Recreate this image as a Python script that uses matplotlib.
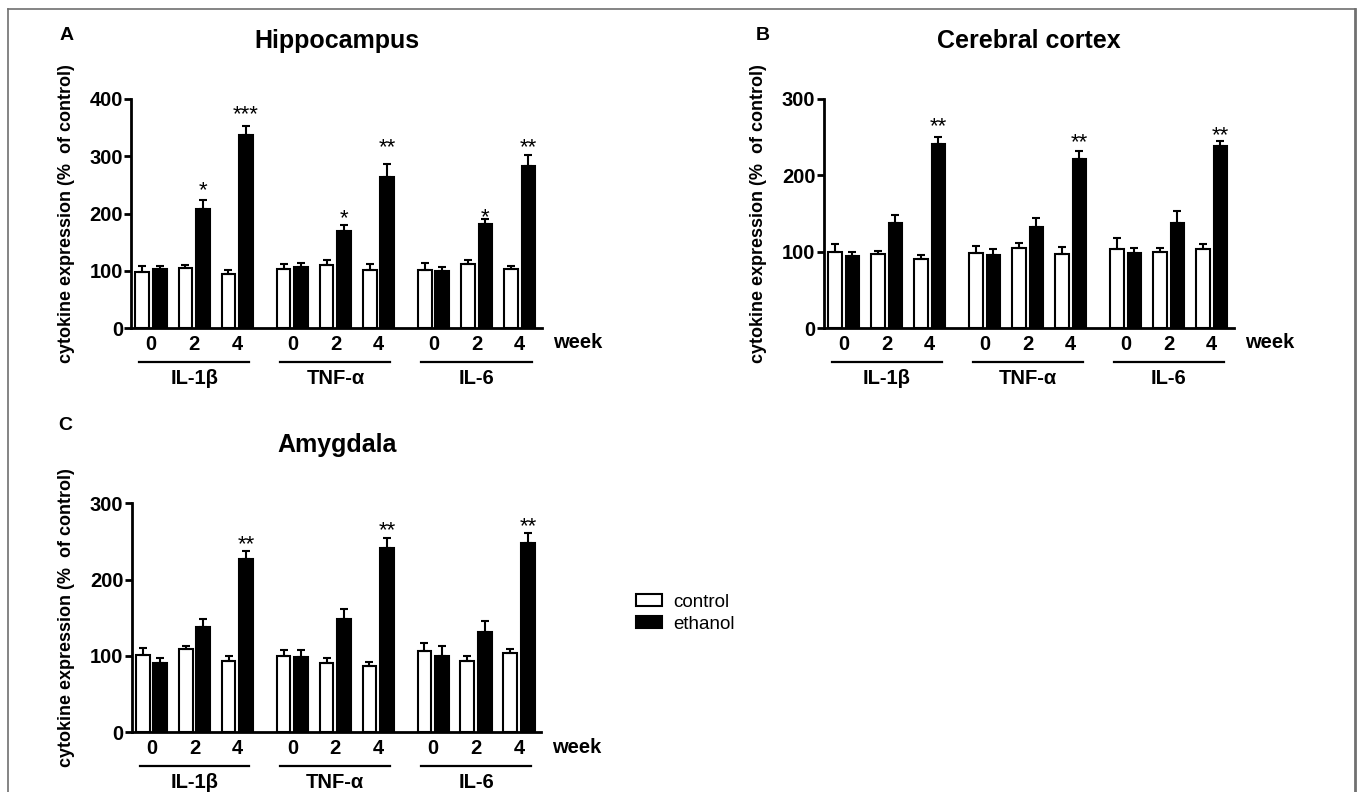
import matplotlib
matplotlib.use("Agg")
import matplotlib.pyplot as plt
from matplotlib.lines import Line2D
from matplotlib.patches import Patch
import numpy as np

plt.rcParams['font.family'] = ['Liberation Sans', 'DejaVu Sans']

# ---------------- data ----------------
cytokines = ["IL-1\u03b2", "TNF-\u03b1", "IL-6"]
weeks = ["0", "2", "4"]

# order: IL-1b wk0,2,4 | TNF-a wk0,2,4 | IL-6 wk0,2,4
hippo_ctrl = [97.7, 104.7, 94.0, 103.0, 110.0, 102.0, 102.0, 111.6, 103.5]
hippo_ctrl_err = [10.0, 6.0, 8.0, 9.0, 8.0, 10.0, 12.0, 6.5, 4.5]
hippo_eth = [103.0, 208.0, 337.0, 106.0, 168.6, 264.5, 99.4, 182.0, 283.0]
hippo_eth_err = [6.0, 16.0, 15.0, 8.0, 10.5, 21.5, 7.0, 8.0, 18.6]
hippo_sig = ["", "*", "***", "", "*", "**", "", "*", "**"]
hippo_sig_y = [0, 253, 385, 0, 203, 328, 0, 205, 328]

cortex_ctrl = [99.4, 97.0, 90.7, 98.0, 104.7, 96.8, 103.0, 99.4, 103.8]
cortex_ctrl_err = [10.0, 4.5, 4.5, 9.0, 6.0, 9.6, 14.8, 4.8, 6.0]
cortex_eth = [94.6, 137.0, 241.0, 96.0, 132.6, 221.0, 98.0, 137.8, 239.0]
cortex_eth_err = [5.0, 11.0, 9.0, 7.0, 11.4, 10.5, 7.0, 16.0, 6.0]
cortex_sig = ["", "", "**", "", "", "**", "", "", "**"]
cortex_sig_y = [0, 0, 274, 0, 0, 252, 0, 0, 262]

amyg_ctrl = [101.3, 109.6, 93.4, 99.6, 91.3, 87.0, 106.5, 94.0, 103.5]
amyg_ctrl_err = [9.6, 4.0, 6.6, 7.8, 5.7, 5.6, 10.5, 6.0, 6.0]
amyg_eth = [91.3, 138.4, 227.0, 99.0, 149.0, 241.0, 99.6, 132.0, 248.0]
amyg_eth_err = [6.5, 10.5, 10.0, 9.0, 12.0, 14.0, 13.0, 14.0, 13.6]
amyg_sig = ["", "", "**", "", "", "**", "", "", "**"]
amyg_sig_y = [0, 0, 256, 0, 0, 274, 0, 0, 279]

panels = [
    dict(letter="A", title="Hippocampus", ymax=400, yticks=[0, 100, 200, 300, 400],
         ctrl=hippo_ctrl, ctrl_err=hippo_ctrl_err, eth=hippo_eth, eth_err=hippo_eth_err,
         sig=hippo_sig, sig_y=hippo_sig_y),
    dict(letter="B", title="Cerebral cortex", ymax=300, yticks=[0, 100, 200, 300],
         ctrl=cortex_ctrl, ctrl_err=cortex_ctrl_err, eth=cortex_eth, eth_err=cortex_eth_err,
         sig=cortex_sig, sig_y=cortex_sig_y),
    dict(letter="C", title="Amygdala", ymax=300, yticks=[0, 100, 200, 300],
         ctrl=amyg_ctrl, ctrl_err=amyg_ctrl_err, eth=amyg_eth, eth_err=amyg_eth_err,
         sig=amyg_sig, sig_y=amyg_sig_y),
]

# ---------------- layout ----------------
W, H = 1357, 792
fig = plt.figure(figsize=(W / 100, H / 100), dpi=100)

def px_rect(left, right, top, bottom):
    return [left / W, 1 - bottom / H, (right - left) / W, (bottom - top) / H]

rects = [px_rect(131.4, 542, 99, 328),
         px_rect(823.8, 1234, 99, 328),
         px_rect(131.8, 541.4, 503.3, 732.3)]
letter_pos = [(67, 36), (763, 35), (65, 425)]

group_step = 3.28
x = np.array([g * group_step + j for g in range(3) for j in range(3)], dtype=float)
off = 0.205
bw = 0.32

TICK_FS = 14.5
LAB_FS = 14.5
STAR_FS = 16

for p, r, lp in zip(panels, rects, letter_pos):
    ax = fig.add_axes(r)
    ax.bar(x - off, p["ctrl"], width=bw, color="white", edgecolor="black", linewidth=1.5, zorder=2)
    ax.bar(x + off, p["eth"], width=bw, color="black", edgecolor="black", linewidth=1.5, zorder=2)
    ax.errorbar(x - off, p["ctrl"], yerr=[np.zeros(9), p["ctrl_err"]], fmt="none",
                ecolor="black", elinewidth=1.5, capsize=2.9, capthick=1.5, zorder=3)
    ax.errorbar(x + off, p["eth"], yerr=[np.zeros(9), p["eth_err"]], fmt="none",
                ecolor="black", elinewidth=1.5, capsize=2.9, capthick=1.5, zorder=3)
    for xi, s, sy in zip(x + off, p["sig"], p["sig_y"]):
        if s:
            ax.annotate(s, (xi, sy), xytext=(0, -0.58 * STAR_FS), textcoords="offset points",
                        ha="center", va="baseline", fontsize=STAR_FS, annotation_clip=False)

    ax.set_xlim(-0.46, 9.08)
    ax.set_ylim(0, p["ymax"])
    for s in ["top", "right"]:
        ax.spines[s].set_visible(False)
    ax.spines["left"].set_linewidth(2)
    ax.spines["bottom"].set_linewidth(2)
    ax.set_yticks(p["yticks"])
    ax.set_yticklabels([str(t) for t in p["yticks"]], fontweight="bold", fontsize=TICK_FS)
    ax.tick_params(axis="y", length=5, width=2, pad=1)
    ax.set_xticks(x)
    ax.set_xticklabels(weeks * 3, fontweight="bold", fontsize=TICK_FS)
    ax.tick_params(axis="x", length=0, pad=5)

    ax.text(1.027, -0.0655, "week", transform=ax.transAxes, ha="left", va="center",
            fontweight="bold", fontsize=LAB_FS)
    trans = ax.get_xaxis_transform()
    for g, name in enumerate(cytokines):
        c0 = g * group_step
        ax.add_line(Line2D([c0 - 0.28, c0 + 2 + 0.28], [-0.147, -0.147], transform=trans,
                           color="black", linewidth=1.6, clip_on=False))
        ax.text(c0 + 1, -0.22, name, transform=trans, ha="center", va="center",
                fontweight="bold", fontsize=LAB_FS)

    ax.text(0.5, 1 + 58 / 229, p["title"], transform=ax.transAxes, ha="center", va="center",
            fontweight="bold", fontsize=18)
    fig.text(lp[0] / W, 1 - lp[1] / H, p["letter"], ha="center", va="center",
             fontweight="bold", fontsize=14)
    # y label
    yl_x = (r[0] * W - 65) / W
    yl_y = r[1] + r[3] / 2
    fig.text(yl_x, yl_y, "cytokine expression (%  of control)", rotation=90,
             ha="center", va="center", fontweight="bold", fontsize=13)

# legend
handles = [Patch(facecolor="white", edgecolor="black", linewidth=1.5, label="control"),
           Patch(facecolor="black", edgecolor="black", linewidth=1.5, label="ethanol")]
fig.legend(handles=handles, loc="upper left", bbox_to_anchor=(636 / W, 1 - 594 / H),
           frameon=False, fontsize=13.5, handlelength=1.4, handleheight=0.6,
           handletextpad=0.6, labelspacing=0.25, borderpad=0, borderaxespad=0)

# border
bc = "#707070"
fig.add_artist(Line2D([8 / W, 8 / W], [0, 1 - 9 / H], transform=fig.transFigure, color=bc, lw=1.2))
fig.add_artist(Line2D([8 / W, 1355 / W], [1 - 9 / H, 1 - 9 / H], transform=fig.transFigure, color=bc, lw=1.2))
fig.add_artist(Line2D([1355 / W, 1355 / W], [0, 1 - 9 / H], transform=fig.transFigure, color=bc, lw=2))

fig.savefig("out.png", dpi=100)
